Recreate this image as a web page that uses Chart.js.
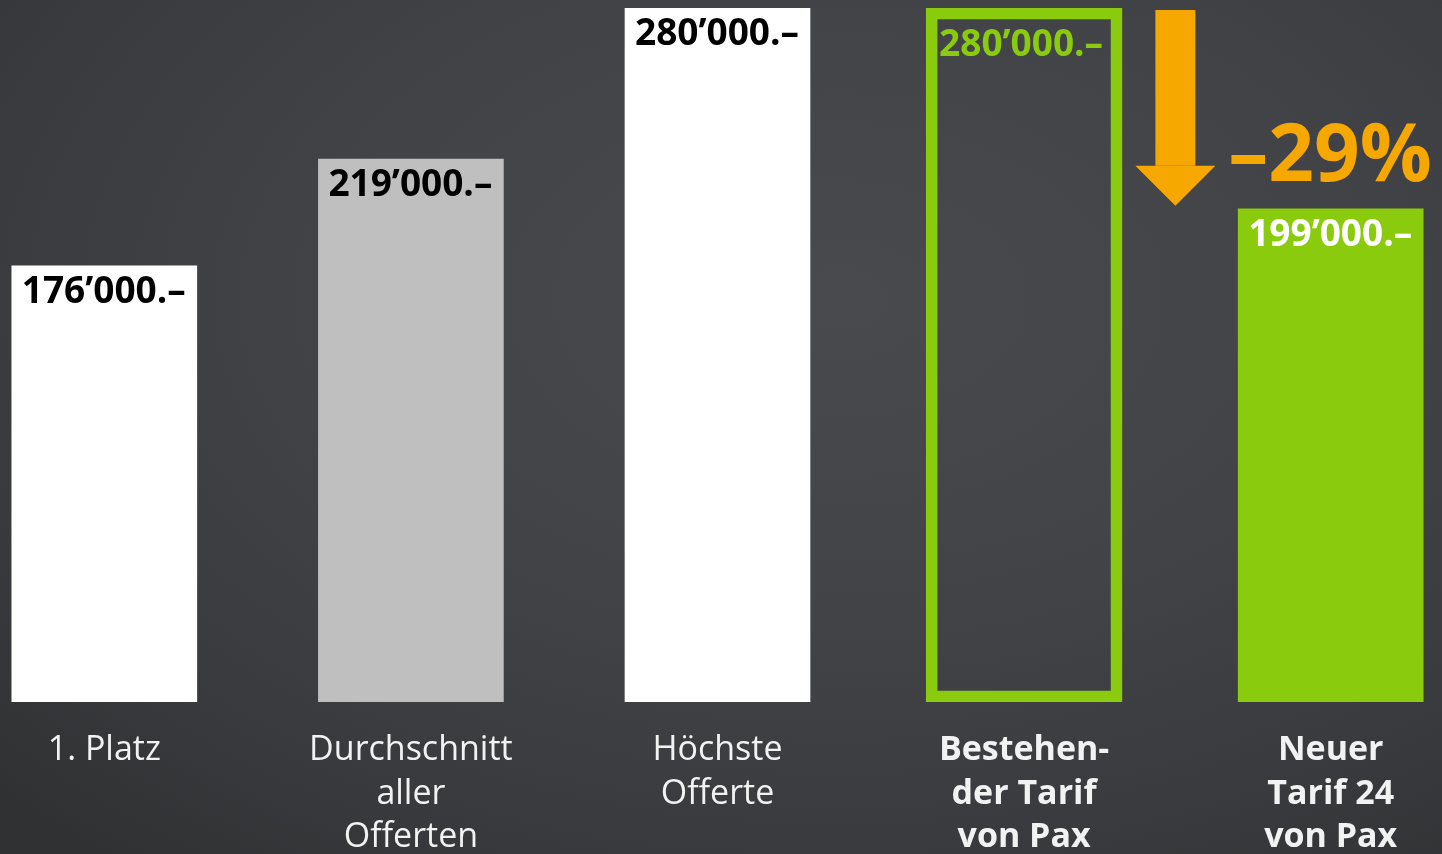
<!DOCTYPE html>
<html>
<head>
<meta charset="utf-8">
<script src="https://cdn.jsdelivr.net/npm/chart.js@4"></script>
<style>
  html, body { margin: 0; padding: 0; width: 1442px; height: 854px; overflow: hidden; }
  body {
    background: radial-gradient(ellipse 80% 85% at 58% 35%, #484a4d 0%, #414346 45%, #383a3d 78%, #2f3133 100%);
    position: relative;
  }
  #wrap { position: absolute; left: -49px; top: 0; width: 1533px; height: 854px; }
</style>
</head>
<body>
<div id="wrap"><canvas id="bar-chart"></canvas></div>
<script>
// data
const categories = [
    ["1. Platz"],
    ["Durchschnitt", "aller", "Offerten"],
    ["Höchste", "Offerte"],
    ["Bestehen-", "der Tarif", "von Pax"],
    ["Neuer", "Tarif 24", "von Pax"]
];
const values = [176000, 219000, 280000, 280000, 199000];
const barColors = ["#ffffff", "#bfbfbf", "#ffffff", "rgba(0,0,0,0)", "#8bcb0e"];
const labelColors = ["#000000", "#000000", "#000000", "#8bcb0e", "#ffffff"];
const outlineIndex = 3;   // existing tariff, drawn as outline
const newIndex = 4;       // new tariff

const green = "#8bcb0e";
const orange = "#f7a800";
const fontFamily = "'Open Sans', 'Noto Sans', sans-serif";

function fmt(v) {
    return Math.round(v / 1000) + "’000.–";
}

const filled = values.map((v, i) => i === outlineIndex ? null : v);
const outlined = values.map((v, i) => i === outlineIndex ? v : null);

const valueLabels = {
    id: "valueLabels",
    afterDatasetsDraw(chart) {
        const ctx = chart.ctx;
        ctx.save();
        ctx.font = "bold 37px " + fontFamily;
        ctx.textAlign = "left";
        ctx.textBaseline = "alphabetic";
        chart.data.datasets.forEach((ds, d) => {
            const meta = chart.getDatasetMeta(d);
            meta.data.forEach((bar, i) => {
                if (ds.data[i] == null) return;
                const inset = d === 1 ? 13 : 10;
                const drop = d === 1 ? 48 : 37;
                ctx.fillStyle = labelColors[i];
                ctx.fillText(fmt(ds.data[i]), bar.x - bar.width / 2 + inset, bar.y + drop);
            });
        });

        // arrow from old tariff to new tariff + percentage
        const oldBar = chart.getDatasetMeta(1).data[outlineIndex];
        const newBar = chart.getDatasetMeta(0).data[newIndex];
        const ax = (oldBar.x + newBar.x) / 2 - 2;
        const top = oldBar.y + 2;
        const tip = newBar.y - 3;
        ctx.fillStyle = orange;
        ctx.fillRect(ax - 20, top, 40, tip - 40 - top);
        ctx.beginPath();
        ctx.moveTo(ax - 40, tip - 40);
        ctx.lineTo(ax + 40, tip - 40);
        ctx.lineTo(ax, tip);
        ctx.closePath();
        ctx.fill();

        const pct = Math.round((values[newIndex] - values[outlineIndex]) / values[outlineIndex] * 100);
        ctx.font = "bold 80px " + fontFamily;
        ctx.fillText("–" + Math.abs(pct) + "%", newBar.x - newBar.width / 2 - 10, newBar.y - 28);
        ctx.restore();
    }
};

new Chart(document.getElementById("bar-chart"), {
    type: 'bar',
    data: {
        labels: categories,
        datasets: [{
            label: "Offerten",
            data: filled,
            backgroundColor: barColors,
            barThickness: 185,
            borderWidth: 0
        }, {
            label: "Bestehender Tarif",
            data: outlined,
            backgroundColor: "rgba(0,0,0,0)",
            borderColor: green,
            borderWidth: 11,
            borderSkipped: false,
            barThickness: 196
        }]
    },
    options: {
        responsive: true,
        maintainAspectRatio: false,
        animation: false,
        datasets: { bar: { grouped: false } },
        layout: { padding: { top: 8, left: 0, right: 0, bottom: 0 } },
        plugins: {
            legend: { display: false },
            tooltip: { enabled: false },
            title: { display: false }
        },
        scales: {
            y: {
                display: false,
                min: 0,
                max: 280000
            },
            x: {
                grid: { display: false },
                border: { display: false },
                afterFit: (scale) => { scale.height = 152; },
                ticks: {
                    autoSkip: false,
                    maxRotation: 0,
                    padding: 19,
                    color: "#f2f2f2",
                    font: (c) => ({
                        family: fontFamily,
                        size: 34,
                        weight: c.index >= outlineIndex ? "bold" : "normal",
                        lineHeight: 1.28
                    })
                }
            }
        }
    },
    plugins: [valueLabels]
});
</script>
</body>
</html>
